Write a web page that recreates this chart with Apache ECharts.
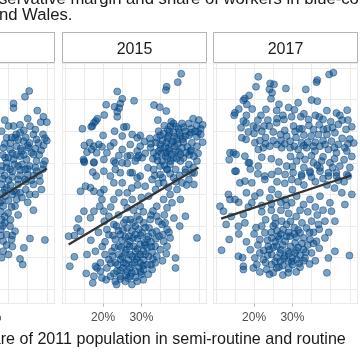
<!DOCTYPE html>
<html><head><meta charset="utf-8">
<script src="https://cdn.jsdelivr.net/npm/echarts@6/dist/echarts.min.js"></script>
<style>html,body{margin:0;padding:0;background:#fff}#c{width:360px;height:356px}</style>
</head><body><div id="c"></div>
<script>
const years = ['2010', '2015', '2017'];

const pts2010 = [[40.4,45.4],[39.3,41.8],[36.3,37.5],[36.3,34.6],[44.1,29.1],[43.4,25.7],[45,25.7],[35,23.2],[36.3,23.2],[33.2,20],[34.5,15.8],[36.7,15.8],[38,19],[40.6,23.2],[41.5,17.9],[42.3,14.8],[44.1,11],[38.9,13.7],[37.1,10.5],[35.4,8.4],[33.6,9.5],[40.2,9.5],[41.5,5.3],[44.5,1.1],[44.1,-1.1],[42.3,1.1],[39.7,2.1],[38,4.2],[36.3,2.1],[34.1,3.2],[33.2,-2.1],[35.4,-4.2],[37.5,-2.1],[39.3,-4.2],[42.3,-5.3],[43.2,-11.6],[41.5,-13.7],[43.6,-16.9],[39.3,-10.6],[37.5,-13.7],[36.3,-17.9],[34.5,-15.8],[33.2,-13.7],[37.1,-23.2],[36.7,-27.4],[41.5,-30],[33.6,-27.4],[34.9,-31.7],[33.2,-35.9],[35.4,-40.1],[36.7,-43.3],[34.5,-45.4],[33.6,-49.6],[33.6,-55.9],[35.8,-48.5],[40.6,-47.9],[44.5,-48.8],[39,-53.8],[38,-60.8],[38.7,-64.4],[32.8,-25.3],[34.1,-21.1],
[34,12],[35.5,12.5],[37.5,14.5],[39.5,16],[40.5,12.5],[42,9],[43,5],[36,6],[38.5,7.5],[34.5,0],[36.5,-1],[38.5,-1],[40.5,-2],[41.5,-8],[40,-7.5],[38,-8],[36,-9],[34,-8],[33,-5],[35,-11],[37,-18.5],[39.5,-17],[42,-20],[38.5,-22],[40,-25],[35,-24],[33.5,-19],[33,-31],[34,-38],[33,-42],[35.5,-36],[37.5,-33],[36,-53],[33,-46],[35,-58],[37,18],[39,20.5],[42,21],[44,18],[45,14],
[33.5,5],[35,3.5],[37,5],[39,5],[41,6.5],[43.5,8],[34.5,-3],[36,-5.5],[38,-4.5],[40,-4],[42,-3],[44,-4],[33.5,-10],[35.5,-14],[37.5,-10.5],[39.5,-12],[41,-11],[43,-8],[34,-17],[36,-20],[38,-19],[40.5,-20],[33.2,-24],[35.8,-28],[34,-34],[33.5,-40],[36,-46],[34.5,-52],[33.2,-60],[35.8,16],[38.2,9],[40,11],[42.8,12.5],[44.5,15.5],[34,27],[38,24],[40,28],[42.5,33]];

const pts2015 = [[40.4,56.3],[39.5,51],[36.6,48.1],[36.4,46],[23.7,45.1],[25,40.5],[28.1,39.2],[23,35.4],[24.2,34.6],[24.5,37.5],[20.8,36.7],[23.7,32.3],[23.7,29.1],[33.3,36.5],[34.8,35.2],[36.5,32.7],[34.3,27],[20.3,30.2],[18.5,27.9],[17.6,25.3],[18.1,26.4],[17.2,23.2],[16.9,22.8],[14.6,21.5],[25.4,22.6],[26.1,22.8],[23,20],[25,16.9],[27.6,17.9],[28.9,15.8],[29.7,17.3],[32.2,15.4],[34,15.8],[34.9,17.3],[43.5,27.9],[45,27],[42.4,24.9],[44.4,23.6],[40.6,24.9],[38.4,24.9],[37.6,23.2],[36.9,21.1],[39.7,21.5],[41.5,20],[42.9,19],[44.5,16.4],[44.5,10.5],[43.2,12.7],[41.5,16.9],[40.2,16.9],[39.3,14.8],[38.4,19],[37,16.9],[36.5,12.7],[34.9,11.6],[37,8.9],[36.5,6.3],[38.9,7.4],[40.6,9.5],[41.7,6.3],[40.2,5.3],[38.4,3.2],[37.6,1.1],[36.3,4.2],[34.5,7.4],[35.4,1.1],[34,4.2],[32.4,9.5],[33.2,6.3],[40.2,1.1],[42.4,-1.1],[43.7,4.2],[44.5,1.1],[38.9,-4.2],[36.7,-4.2],[34.9,-2.1],[33.2,-4.2],[31.7,-3.2],[15.1,11],[16.5,12.7],[17.6,10.5],[17,8.4],[18.9,11.6],[20,17.3],[19.7,10.1],[21.9,10.5],[22.8,12.7],[21,6.3],[18.3,6.3],[15.8,6.7],[14.9,2.1],[15.1,0.4],[17.6,0.4],[20.2,2.1],[22.8,1.1],[24.1,4.6],[27.1,4.6],[29.3,4.6],[30.2,3.2],[28.4,1.1],[26.3,-0.4],[25,0],[27.1,11.6],[29.7,10.5],[28.9,7.4],[25,8.4],[17.3,-5.9],[18.2,-8.4],[20.2,-5.3],[23.2,-4.2],[27.6,-6.3],[29.7,-8.4],
[35.5,14],[36.2,10],[37.8,12],[38.7,10.5],[39.5,12],[35.8,18.5],[37.3,19.8],[38.6,16.5],[39.9,19],[41,13],[42,10],[43,8],[33.8,12.8],[35,9],[36.8,3],[38,5.5],[39.2,2.5],[41,3],[42.5,5],[43.5,-3],[41.5,-6],[37.5,-1],[36,-1.5],[34.2,1.5],[33,2.5],[31,6],[32.5,12],[30.8,13.5],[44,20],[45.5,21.5],[46,24],[45.5,18],[46,13],
[34.5,20],[36,23.5],[37.8,26],[39,23],[41,22.5],[43,21.5],[44.8,19.5],[42.5,17.5],[40.8,15],[38.2,13.5],[36.8,15.5],[35.2,6],[37.2,7.5],[39.8,7],[42.8,7.5],[44.8,6],[43.8,-6.5],[40,-8],[37.5,-7],[35.5,-9.5],[33.5,-8],[39,-12],[41.8,-14],[37,-15.5],[34.5,-13],
[15,1],[17.6,0],[23.2,0],[26.3,4.2],[28.9,3.1],[14.1,-18],[15.4,-14.8],[16.7,-15.8],[17.6,-18],[19.3,-19],[19.7,-23.2],[19.1,-27.5],[20.2,-30.6],[17.6,-30.6],[15,-30.6],[16.7,-34.8],[13.6,-35.5],[13.2,-41.2],[14.1,-43.3],[11,-46.4],[12.5,-46],[16.8,-49],[18,-56],[15.8,-58],[12.5,-59.5],[11.3,-65.4],[15.6,-70],[17.6,-71.8],[17.3,-76],[18,-65.4],[19.3,-63.3],
[22.8,-12.7],[25,-12.7],[26.3,-19],[27.6,-23.2],[29.7,-27.5],[26.3,-28.5],[28.9,-33.8],[27.1,-35.9],[25.4,-38],[30.6,-38],[32.3,-35.9],[34,-33.8],[35.4,-39],[36.7,-42.2],[34.6,-46.4],[32.8,-44.3],[31.5,-48.5],[30.2,-44.3],[28.4,-45.4],[26.7,-46.4],[24.5,-45.4],[23.2,-48.5],[24.1,-52.8],[26.3,-51.7],[28,-52.8],[29.7,-51.7],[31.5,-53.8],[33.6,-52.8],[34.9,-54.9],[36.7,-52.8],[22.3,-56],[24.1,-58],[25.8,-57],[27.6,-59.1],[29.7,-58],[31.9,-59.1],[34,-59.1],[21.5,-61.2],[23.2,-63.3],[25.4,-63.3],[27.6,-64.4],[29.7,-63.3],[31.5,-64.4],[33.6,-63.3],[21,-66.5],[23.6,-68.6],[26.3,-68.6],[28.4,-68.6],[30.6,-67.5],[32.8,-67.5],[24.5,-71.8],[27.1,-71.8],[19.3,-68.6],[19.7,-72.8],[21.9,-71.8],[38.9,-60.2],[38.9,-66.5],[44.5,-47.5],[41.5,-33.8],[40.2,-23.2],[38,-25.3],[36.7,-28.5],[34,-27.5],[35.8,-23.2],[37.5,-20],[39.3,-16.9],[40.6,-12.7],[42.4,-10.6],[43.7,-13.7],[43.2,-6.3],[41.5,-4.2],[38.4,-9.5],[35.8,-12.7],[33.7,-16.9],[31.9,-21.1],[31,-14.8],[32.8,-10.6],[34.9,-7.4],[36.7,-4.2],[28.9,-9.5],[27.1,-6.3],[24.5,-6.3],[21.9,-8.4],[20.2,-16.9],[22.8,-23.2],[24.1,-19],[21.5,-33.8],[22.8,-39],[21,-42.2],[26.3,-41.2],[28.4,-40.1],[32,-41.2],[33.9,-43.3],[35.8,-49.6],[37.5,-47.5],[28.9,-75],[23.2,-75],[25.8,-75],[18.4,-66.5],
[25,-49],[27,-49.5],[29,-48],[30.8,-50.5],[32.5,-50],[26,-55],[28.5,-56],[30.5,-56],[32.8,-56.5],[24.6,-61],[26.6,-61.5],[28.7,-61],[30.6,-61.5],[27,-66.5],[29.4,-66],[25.2,-66.5],[22.5,-59],[24,-43],[27.5,-43],[29.3,-42],[31,-41],[26,-36],[28,-30],[30.5,-31],[33,-30.5],[24,-33],[22,-28],[25.5,-25],[30,-22],[27.5,-16],[29,-14],[24.5,-73.5],[26.5,-73],[30,-70.5],[35.5,-62],[36.5,-57.5],[23,-53.5],[20.5,-50],[21.5,-45.5],[34.5,-37],[36,-33],[38.5,-35],[40,-40],
[25.8,-47],[27.8,-47.5],[29.8,-46],[31.8,-46.5],[24.8,-53.5],[26.9,-53],[29,-54.5],[30.9,-52],[32.6,-53],[25,-59.5],[27,-58],[29,-59.5],[31,-58],[33,-61],[23.8,-64.5],[26,-64],[28.2,-63],[30.4,-65],[32.5,-64.5],[24.5,-68],[27.5,-69.5],[29.8,-69],[31.8,-70.5],[26,-71],[28.5,-72.5],[22.8,-70],[20.8,-74],[23.5,-77],[27.5,-77],[30.5,-74],[22,-63.5],[20.5,-58],[33.8,-48],[35.6,-45.5],[37.2,-44],[36.2,-38],[32.5,-33],[29.5,-36],[27.8,-38],[25.2,-42.5],[23.5,-40],[22.6,-46],[20.3,-37],[18.8,-44],[19.8,-53]];

const pts2017 = [[40.7,57],[39.6,55.9],[36.5,52.3],[36.3,51],[21.1,54.4],[24.2,50.2],[25.2,49.6],[24,46.4],[24.7,44.3],[24.4,40.5],[28.3,47],[33.5,46.4],[35,39.7],[36.5,39],[20.5,48.1],[18.7,42.6],[17.6,40.7],[17.2,39.5],[18.1,36.9],[15,31.6],[14.8,30],[17.2,26.4],[17.9,25.3],[16.6,22.2],[16.8,15.8],[17.9,14.8],[20.2,12.7],[19.8,23.2],[20.7,22.2],[22.6,23.2],[23.1,33.8],[25.9,33.1],[27.5,30],[29.8,29.1],[27.8,27.4],[32.2,29.1],[34.2,27.4],[34.3,23.6],[31.8,21.5],[30.7,19.8],[30.3,23.2],[25.9,25.3],[24,23.2],[28.5,16.9],[26.9,17.9],[29.4,13.7],[32.4,12.7],[34.9,16.9],[36.8,17.9],[38.1,21.1],[39.1,21.5],[40.5,22.2],[42.4,30],[44.3,33.3],[44,21.1],[45.5,22.8],[42,24.3],[41.1,19],[39,17.9],[40.2,13.7],[42,11.6],[43.7,9.5],[44.2,7.4],[41.5,6.3],[39.4,8.4],[37.2,10.5],[35.9,7.4],[33.7,9.5],[31.5,8.4],[29.4,9.5],[27.2,9.5],[24.1,10.5],[22.4,9.5],[21.1,8.4],[14.6,6.3],[15.3,5.3],[13.7,6.3],[17.6,4.2],[18.8,0],[21.1,-2.1],[15.3,-5.3],[22.8,-8.4],[24.6,-7.4],[26.3,-5.3],[28.5,-2.1],[31.1,1.1],[33.3,2.1],[35.5,0],[37.6,1.1],[39.8,0],[42.4,-2.1],[44.6,-8.4],[41.5,-6.3],[39.4,-6.3],[37.2,-5.3],[34.6,-6.3],[32.4,-7.4],[30.2,-6.3],
[19.5,34],[21.8,30],[23.6,27],[26.5,37],[30.5,33.5],[31.5,38],[33,31],[36,30],[38,27.5],[37,24],[40,26],[43,27],[45,15],[46,12.5],[43,15.5],[38,14],[36,13],[34,13],[33,17.5],[31,16],[27,14],[25,14],[23,16],[20,18.5],[18.5,19.5],[22,3.5],[24.5,2.5],[26.5,0.5],[29.5,4],[32,4.5],[35,4.5],[38,3.8],[41,2.5],[43.5,2],[45.5,4],[30,-2.5],[33,-3],[36.5,-1.5],[40.5,-3],[19,-4],[13.5,2],
[21.5,14],[23,12],[26,11.5],[28,12],[30.5,10.5],[33,11],[35.5,10.5],[38.5,11.5],[41,9.5],[44.5,12],[22,20],[25,19.5],[28,20.5],[32.5,21.5],[35.5,21],[37,29],[41.5,31.5],[39,33],[29,35],[26,28],[21,27],[18,30],[16,34],[44.5,27],[45,-3],[42,-11],[38,-10],[35,-9],[31.5,-12],[28,-13],
[18.5,0],[15,-5.3],[16.3,-12.7],[17.6,-11.6],[19.4,-12.7],[22.8,-10.6],[24.6,-16.9],[28.1,-7.4],[29.8,-10.6],[32.4,-8.4],[34.6,-5.3],[37.2,-3.2],[39.4,-8.4],[41.5,-8.4],[44.2,-7.4],[42.9,-19],[43.7,-26.4],[40.2,-30.6],[39.8,-25.3],[37.2,-21.1],[34.6,-23.2],[32.9,-26.4],[31.1,-21.1],[29.8,-25.3],[28.1,-23.2],[26.3,-20],[24.1,-22.2],[21.5,-19],[20.2,-21.1],[19.4,-25.3],[13.3,-20],[13.7,-23.2],[15,-23.2],[11.1,-27.5],[12,-30.6],[12.7,-39],[17.2,-32.7],[17.6,-38],[15.9,-40.1],[13.5,-48.5],[11.5,-55.3],[15.9,-59.1],[17.2,-65.4],[17.2,-67.5],[20.2,-60.2],[21.5,-57],[22.8,-44.3],[25.5,-34.8],[27.2,-36.9],[27.6,-42.2],[26.3,-46.4],[24.6,-47.5],[23.7,-52.8],[25.9,-52.8],[28.1,-49.6],[29.4,-46.4],[30.7,-50.7],[32,-44.3],[33.7,-41.2],[35,-36.9],[36.8,-39],[38.5,-36.9],[41.1,-36.9],[38.5,-47.5],[36.3,-49.6],[34.6,-48.5],[32.9,-54.9],[30.7,-57],[28.9,-56],[26.8,-57],[24.6,-58],[22.4,-61.2],[24.6,-64.4],[26.8,-62.3],[28.9,-62.3],[31.1,-61.2],[33.3,-60.2],[35,-57],[23.3,-67.5],[25.9,-66.5],[28.9,-69.6],[19.8,-66.5],[20.7,-64.4],[39,-69.6],[39.4,-60.2],[41.1,-56],[44.9,-58.7],
[25,-40],[27,-45],[29,-44],[31,-47],[33,-47.5],[25.5,-50],[27.5,-52],[29.5,-53],[31.5,-53.5],[34,-52],[24,-55],[26,-60],[28,-59],[30,-60],[32,-58.5],[27.5,-65],[30,-64.5],[22.5,-55.5],[21,-52],[23.5,-49],[26,-43],[28.5,-39],[30.5,-41],[32.5,-38],[31,-34],[29,-32],[27,-30],[24.5,-30],[22,-27],[34,-31],[36,-28],[38,-30],[35.5,-44],[37,-54],[36,-62],[22,-40],[20,-45],[19,-55],[21.5,-69],[25,-69.5],[32,-66],[34.5,-64],[27,-25],[30,-17],[33,-14],[36,-12],[39,-14],[41,-16],[26,-12],[21,-7],[43.5,-12],[45.5,-20],
[24.5,-44],[26.5,-48],[28.5,-46.5],[30.5,-45],[32.5,-51],[25,-53.5],[27,-55],[29,-57.5],[31,-55.5],[33.5,-56.5],[23.5,-58.5],[25.5,-62.5],[27.8,-60.5],[29.8,-62.5],[31.8,-63.5],[23,-63],[26.5,-66],[29,-67],[31,-69],[24,-70.5],[27.5,-71],[33,-62],[35.5,-51],[21.5,-48.5],[20.5,-41],[23,-36],[25.5,-38.5],[29.5,-37],[31.5,-42.5],[34.5,-44],[37,-42],[39.5,-44],[36.5,-33],[32,-30],[28.5,-27],[24.5,-26],[22,-31],[18.5,-28],[16,-25],[18,-19],[14,-34],[16,-45],[18,-50],[17,-60]];

const fit2010 = [[11.0, -54.7], [45.0, -3.6]];
const fit2015 = [[11.0, -51.7], [44.9, -3.0]];
const fit2017 = [[11.4, -35.3], [45.3, -8.0]];

const xTickValues = [20, 30];
const xRange = [9.4, 47.0];
const yRange = [-89, 62.8];

const titleLine1 = 'Conservative margin and share of workers in blue-collar occupations,';
const titleLine2 = 'England and Wales.';
const xTitleLine1 = 'Share of 2011 population in semi-routine and routine';
const xTitleLine2 = 'occupations';

const panels = [pts2010, pts2015, pts2017];
const fits = [fit2010, fit2015, fit2017];

const FONT = '"Liberation Sans", Arial, Helvetica, sans-serif';
const lefts = [-89.5, 62.5, 213.5];
const PW = 144, TOP = 63.5, PH = 240;
const ptColor = 'rgba(6,72,134,0.64)';

const grid = [], xAxis = [], yAxis = [], series = [], graphic = [];
lefts.forEach((l, i) => {
  grid.push({ left: l, top: TOP, width: PW, height: PH, show: true, backgroundColor: '#fff',
    borderColor: '#b3b3b3', borderWidth: 1, containLabel: false, outerBoundsMode: 'none' });
  xAxis.push({ type: 'value', gridIndex: i, min: xRange[0], max: xRange[1], splitNumber: 8,
    minInterval: 5, maxInterval: 5, axisLine: { show: false }, axisTick: { show: false },
    axisLabel: { show: false }, splitLine: { show: true, lineStyle: { color: '#ebebeb', width: 1 } } });
  xAxis.push({ type: 'value', gridIndex: i, min: xRange[0], max: xRange[1], position: 'bottom',
    axisLine: { show: false },
    axisTick: { show: true, length: 3, lineStyle: { color: '#b3b3b3' }, customValues: xTickValues },
    axisLabel: { show: true, customValues: xTickValues, formatter: '{value}%', margin: 8,
      fontSize: 12, color: '#4d4d4d', fontFamily: FONT },
    splitLine: { show: false } });
  yAxis.push({ type: 'value', gridIndex: i, min: yRange[0], max: yRange[1], splitNumber: 8,
    minInterval: 20, maxInterval: 20, axisLine: { show: false }, axisTick: { show: false },
    axisLabel: { show: false }, splitLine: { show: true, lineStyle: { color: '#ebebeb', width: 1 } } });
  series.push({ type: 'scatter', xAxisIndex: 2 * i, yAxisIndex: i, data: panels[i], symbolSize: 7,
    itemStyle: { color: ptColor, borderColor: ptColor, borderWidth: 1 }, silent: true, z: 2 });
  series.push({ type: 'line', xAxisIndex: 2 * i, yAxisIndex: i, data: fits[i], symbol: 'none',
    lineStyle: { color: '#333333', width: 2.2 }, silent: true, z: 3 });
  graphic.push({ type: 'rect', shape: { x: l, y: 32.5, width: PW, height: 30 },
    style: { fill: '#fff', stroke: '#b3b3b3', lineWidth: 1 }, silent: true });
  graphic.push({ type: 'text', x: l + PW / 2, y: 49.3,
    style: { text: years[i], font: '16px ' + FONT, fill: '#1a1a1a', align: 'center', verticalAlign: 'middle' } });
});
graphic.push({ type: 'text', x: -31.6, y: -0.3,
  style: { text: titleLine1, font: '16.7px ' + FONT, fill: '#1a1a1a', align: 'left', verticalAlign: 'middle' } });
graphic.push({ type: 'text', x: 72.5, y: 15.5,
  style: { text: titleLine2, font: '16.7px ' + FONT, fill: '#1a1a1a', align: 'right', verticalAlign: 'middle' } });
graphic.push({ type: 'text', x: -27.9, y: 340,
  style: { text: xTitleLine1, font: '16.1px ' + FONT, fill: '#1a1a1a', align: 'left', verticalAlign: 'middle' } });
graphic.push({ type: 'text', x: 159.6, y: 372,
  style: { text: xTitleLine2, font: '16.1px ' + FONT, fill: '#1a1a1a', align: 'center', verticalAlign: 'middle' } });

const chart = echarts.init(document.getElementById('c'), null, { renderer: 'canvas' });
chart.setOption({ animation: false, backgroundColor: '#fff', grid, xAxis, yAxis, series, graphic });
</script></body></html>
